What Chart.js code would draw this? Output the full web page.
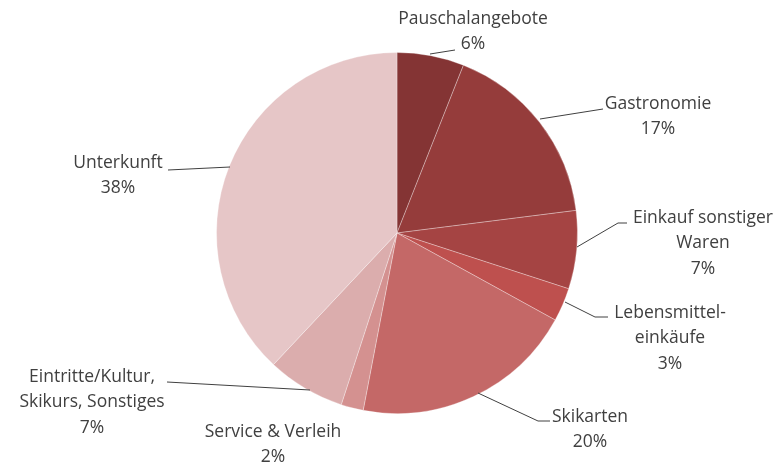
<!DOCTYPE html>
<html><head><meta charset="utf-8">
<script src="https://cdn.jsdelivr.net/npm/chart.js@4"></script>
<style>html,body{margin:0;padding:0;background:#fff}#wrap{width:783px;height:465px}</style>
</head><body><div id="wrap"><canvas id="c"></canvas></div>
<script>
const categories = ["Pauschalangebote","Gastronomie","Einkauf sonstiger Waren","Lebensmitteleinkäufe","Skikarten","Service & Verleih","Eintritte/Kultur, Skikurs, Sonstiges","Unterkunft"];
const shares = [6,17,7,3,20,2,7,38];
const labelLines = [["Pauschalangebote","6%"],["Gastronomie","17%"],["Einkauf sonstiger","Waren","7%"],["Lebensmittel-","einkäufe","3%"],["Skikarten","20%"],["Service & Verleih","2%"],["Eintritte/Kultur,","Skikurs, Sonstiges","7%"],["Unterkunft","38%"]];
const colors = ["#843434","#953c3b","#a54443","#be504e","#c46867","#d49190","#dbadad","#e6c6c7"];

// label layout: text centre x, first line y, leader polyline
const labelLayout = [
  {x:473,y:19,line:[[430,54],[455,50]]},
  {x:658,y:104,line:[[540,119],[603,109]]},
  {x:703,y:218,line:[[577,247],[618,223],[627,223]]},
  {x:670,y:313,line:[[565,302],[595,317],[608,317]]},
  {x:590,y:417,line:[[478,393],[538,421],[550,421]]},
  {x:273,y:432,line:null},
  {x:92,y:377,line:[[310,390],[167,382]]},
  {x:118,y:163,line:[[230,167],[168,170]]}
];

const labelPlugin = {
  id:'labels',
  afterDraw(chart){
    const ctx = chart.ctx;
    ctx.save();
    ctx.font = '17.5px "Open Sans"';
    ctx.fillStyle = '#404040';
    ctx.textAlign = 'center';
    ctx.textBaseline = 'middle';
    labelLayout.forEach((L,i)=>{
      if(L.line){
        ctx.beginPath();
        ctx.strokeStyle='#404040';
        ctx.lineWidth=1;
        L.line.forEach((p,j)=> j?ctx.lineTo(p[0],p[1]):ctx.moveTo(p[0],p[1]));
        ctx.stroke();
      }
      labelLines[i].forEach((t,k)=>ctx.fillText(t,L.x,L.y+k*25.5));
    });
    ctx.restore();
  }
};

new Chart(document.getElementById('c'),{
  type:'pie',
  data:{labels:categories,datasets:[{data:shares,backgroundColor:colors,borderColor:'rgba(255,255,255,0.3)',borderWidth:1}]},
  options:{
    responsive:true,maintainAspectRatio:false,animation:false,
    layout:{padding:{top:52,bottom:51,left:216,right:205}},
    plugins:{legend:{display:false},tooltip:{enabled:false}}
  },
  plugins:[labelPlugin]
});
</script></body></html>
